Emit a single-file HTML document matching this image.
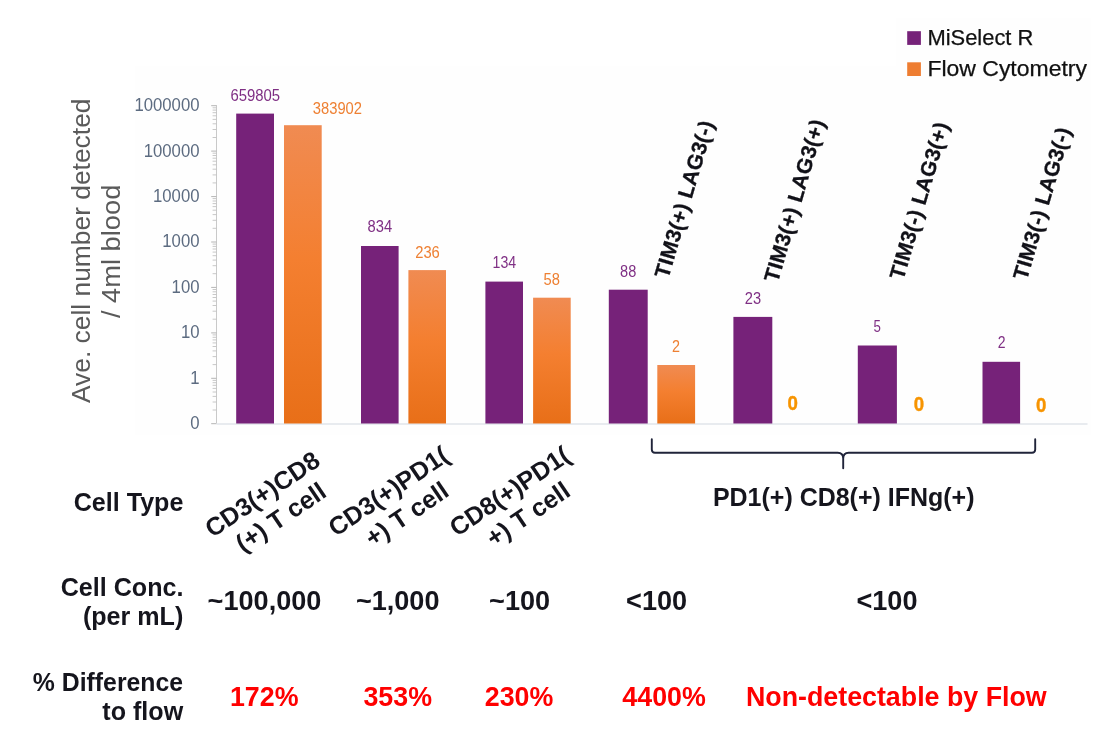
<!DOCTYPE html>
<html lang="en"><head><meta charset="utf-8"><title>MiSelect R vs Flow Cytometry</title>
<style>
html,body{margin:0;padding:0;background:#fff;}
body{width:1116px;height:745px;overflow:hidden;position:relative;}
svg{position:absolute;left:0;top:0;display:block;}
text{font-family:"Liberation Sans",sans-serif;}
.ax{fill:#5c6b80;font-size:19.2px;}
.pl{fill:#7f2f84;font-size:15.8px;}
.ol{fill:#ee8033;font-size:15.8px;}
.zero{fill:#f79400;font-size:20px;font-weight:bold;stroke:#f79400;stroke-width:0.4px;}
.lab{fill:#15151d;font-size:25.1px;font-weight:bold;}
.val{fill:#15151d;font-size:27.1px;font-weight:bold;}
.red{fill:#ff0000;font-size:26.8px;font-weight:bold;}
.rot{fill:#15151d;font-size:25.1px;font-weight:bold;}
.tim{fill:#111118;font-size:21.2px;font-weight:bold;stroke:#111118;stroke-width:0.3px;}
.ytitle{fill:#5a5a5a;font-size:26px;}
.leg{fill:#111;font-size:21.5px;stroke:#111;stroke-width:0.25px;}
</style></head><body>
<svg width="1116" height="745" viewBox="0 0 1116 745">
<defs><linearGradient id="og" x1="0" y1="0" x2="0" y2="1">
<stop offset="0" stop-color="#f08b52"/><stop offset="0.45" stop-color="#f47f30"/><stop offset="1" stop-color="#e86f18"/>
</linearGradient></defs>
<rect x="0" y="0" width="1116" height="745" fill="#ffffff"/>
<rect x="135.5" y="66" width="955.5" height="369" fill="#fefefe"/>
<rect x="896" y="18.5" width="195" height="71" fill="#fefefe"/>
<line x1="216.5" y1="105.2" x2="216.5" y2="423.5" stroke="#c9c9c9" stroke-width="1"/>
<line x1="211.2" y1="105.7" x2="216.5" y2="105.7" stroke="#b4b4b4" stroke-width="1"/>
<line x1="212.6" y1="137.5" x2="216.5" y2="137.5" stroke="#c2c2c2" stroke-width="0.9"/>
<line x1="212.6" y1="129.5" x2="216.5" y2="129.5" stroke="#c2c2c2" stroke-width="0.9"/>
<line x1="212.6" y1="123.8" x2="216.5" y2="123.8" stroke="#c2c2c2" stroke-width="0.9"/>
<line x1="212.6" y1="119.4" x2="216.5" y2="119.4" stroke="#c2c2c2" stroke-width="0.9"/>
<line x1="212.6" y1="115.8" x2="216.5" y2="115.8" stroke="#c2c2c2" stroke-width="0.9"/>
<line x1="212.6" y1="112.7" x2="216.5" y2="112.7" stroke="#c2c2c2" stroke-width="0.9"/>
<line x1="212.6" y1="110.1" x2="216.5" y2="110.1" stroke="#c2c2c2" stroke-width="0.9"/>
<line x1="212.6" y1="107.8" x2="216.5" y2="107.8" stroke="#c2c2c2" stroke-width="0.9"/>
<line x1="211.2" y1="151.1" x2="216.5" y2="151.1" stroke="#b4b4b4" stroke-width="1"/>
<line x1="212.6" y1="182.9" x2="216.5" y2="182.9" stroke="#c2c2c2" stroke-width="0.9"/>
<line x1="212.6" y1="174.9" x2="216.5" y2="174.9" stroke="#c2c2c2" stroke-width="0.9"/>
<line x1="212.6" y1="169.2" x2="216.5" y2="169.2" stroke="#c2c2c2" stroke-width="0.9"/>
<line x1="212.6" y1="164.8" x2="216.5" y2="164.8" stroke="#c2c2c2" stroke-width="0.9"/>
<line x1="212.6" y1="161.2" x2="216.5" y2="161.2" stroke="#c2c2c2" stroke-width="0.9"/>
<line x1="212.6" y1="158.2" x2="216.5" y2="158.2" stroke="#c2c2c2" stroke-width="0.9"/>
<line x1="212.6" y1="155.5" x2="216.5" y2="155.5" stroke="#c2c2c2" stroke-width="0.9"/>
<line x1="212.6" y1="153.2" x2="216.5" y2="153.2" stroke="#c2c2c2" stroke-width="0.9"/>
<line x1="211.2" y1="196.6" x2="216.5" y2="196.6" stroke="#b4b4b4" stroke-width="1"/>
<line x1="212.6" y1="228.3" x2="216.5" y2="228.3" stroke="#c2c2c2" stroke-width="0.9"/>
<line x1="212.6" y1="220.3" x2="216.5" y2="220.3" stroke="#c2c2c2" stroke-width="0.9"/>
<line x1="212.6" y1="214.6" x2="216.5" y2="214.6" stroke="#c2c2c2" stroke-width="0.9"/>
<line x1="212.6" y1="210.2" x2="216.5" y2="210.2" stroke="#c2c2c2" stroke-width="0.9"/>
<line x1="212.6" y1="206.6" x2="216.5" y2="206.6" stroke="#c2c2c2" stroke-width="0.9"/>
<line x1="212.6" y1="203.6" x2="216.5" y2="203.6" stroke="#c2c2c2" stroke-width="0.9"/>
<line x1="212.6" y1="201.0" x2="216.5" y2="201.0" stroke="#c2c2c2" stroke-width="0.9"/>
<line x1="212.6" y1="198.6" x2="216.5" y2="198.6" stroke="#c2c2c2" stroke-width="0.9"/>
<line x1="211.2" y1="242.0" x2="216.5" y2="242.0" stroke="#b4b4b4" stroke-width="1"/>
<line x1="212.6" y1="273.7" x2="216.5" y2="273.7" stroke="#c2c2c2" stroke-width="0.9"/>
<line x1="212.6" y1="265.7" x2="216.5" y2="265.7" stroke="#c2c2c2" stroke-width="0.9"/>
<line x1="212.6" y1="260.1" x2="216.5" y2="260.1" stroke="#c2c2c2" stroke-width="0.9"/>
<line x1="212.6" y1="255.7" x2="216.5" y2="255.7" stroke="#c2c2c2" stroke-width="0.9"/>
<line x1="212.6" y1="252.1" x2="216.5" y2="252.1" stroke="#c2c2c2" stroke-width="0.9"/>
<line x1="212.6" y1="249.0" x2="216.5" y2="249.0" stroke="#c2c2c2" stroke-width="0.9"/>
<line x1="212.6" y1="246.4" x2="216.5" y2="246.4" stroke="#c2c2c2" stroke-width="0.9"/>
<line x1="212.6" y1="244.1" x2="216.5" y2="244.1" stroke="#c2c2c2" stroke-width="0.9"/>
<line x1="211.2" y1="287.4" x2="216.5" y2="287.4" stroke="#b4b4b4" stroke-width="1"/>
<line x1="212.6" y1="319.2" x2="216.5" y2="319.2" stroke="#c2c2c2" stroke-width="0.9"/>
<line x1="212.6" y1="311.2" x2="216.5" y2="311.2" stroke="#c2c2c2" stroke-width="0.9"/>
<line x1="212.6" y1="305.5" x2="216.5" y2="305.5" stroke="#c2c2c2" stroke-width="0.9"/>
<line x1="212.6" y1="301.1" x2="216.5" y2="301.1" stroke="#c2c2c2" stroke-width="0.9"/>
<line x1="212.6" y1="297.5" x2="216.5" y2="297.5" stroke="#c2c2c2" stroke-width="0.9"/>
<line x1="212.6" y1="294.5" x2="216.5" y2="294.5" stroke="#c2c2c2" stroke-width="0.9"/>
<line x1="212.6" y1="291.8" x2="216.5" y2="291.8" stroke="#c2c2c2" stroke-width="0.9"/>
<line x1="212.6" y1="289.5" x2="216.5" y2="289.5" stroke="#c2c2c2" stroke-width="0.9"/>
<line x1="211.2" y1="332.9" x2="216.5" y2="332.9" stroke="#b4b4b4" stroke-width="1"/>
<line x1="212.6" y1="364.6" x2="216.5" y2="364.6" stroke="#c2c2c2" stroke-width="0.9"/>
<line x1="212.6" y1="356.6" x2="216.5" y2="356.6" stroke="#c2c2c2" stroke-width="0.9"/>
<line x1="212.6" y1="350.9" x2="216.5" y2="350.9" stroke="#c2c2c2" stroke-width="0.9"/>
<line x1="212.6" y1="346.5" x2="216.5" y2="346.5" stroke="#c2c2c2" stroke-width="0.9"/>
<line x1="212.6" y1="342.9" x2="216.5" y2="342.9" stroke="#c2c2c2" stroke-width="0.9"/>
<line x1="212.6" y1="339.9" x2="216.5" y2="339.9" stroke="#c2c2c2" stroke-width="0.9"/>
<line x1="212.6" y1="337.3" x2="216.5" y2="337.3" stroke="#c2c2c2" stroke-width="0.9"/>
<line x1="212.6" y1="334.9" x2="216.5" y2="334.9" stroke="#c2c2c2" stroke-width="0.9"/>
<line x1="211.2" y1="378.3" x2="216.5" y2="378.3" stroke="#b4b4b4" stroke-width="1"/>
<line x1="212.6" y1="410.0" x2="216.5" y2="410.0" stroke="#c2c2c2" stroke-width="0.9"/>
<line x1="212.6" y1="402.0" x2="216.5" y2="402.0" stroke="#c2c2c2" stroke-width="0.9"/>
<line x1="212.6" y1="396.4" x2="216.5" y2="396.4" stroke="#c2c2c2" stroke-width="0.9"/>
<line x1="212.6" y1="392.0" x2="216.5" y2="392.0" stroke="#c2c2c2" stroke-width="0.9"/>
<line x1="212.6" y1="388.4" x2="216.5" y2="388.4" stroke="#c2c2c2" stroke-width="0.9"/>
<line x1="212.6" y1="385.3" x2="216.5" y2="385.3" stroke="#c2c2c2" stroke-width="0.9"/>
<line x1="212.6" y1="382.7" x2="216.5" y2="382.7" stroke="#c2c2c2" stroke-width="0.9"/>
<line x1="212.6" y1="380.4" x2="216.5" y2="380.4" stroke="#c2c2c2" stroke-width="0.9"/>
<line x1="211.2" y1="423.7" x2="216.5" y2="423.7" stroke="#b4b4b4" stroke-width="1"/>
<line x1="216.5" y1="424.0" x2="1087.5" y2="424.0" stroke="#e1e4ea" stroke-width="1.3"/>
<text class="ax" x="199.5" y="111.1" text-anchor="end" textLength="65.1" lengthAdjust="spacingAndGlyphs">1000000</text>
<text class="ax" x="199.5" y="156.5" text-anchor="end" textLength="55.8" lengthAdjust="spacingAndGlyphs">100000</text>
<text class="ax" x="199.5" y="202.0" text-anchor="end" textLength="46.5" lengthAdjust="spacingAndGlyphs">10000</text>
<text class="ax" x="199.5" y="247.4" text-anchor="end" textLength="37.2" lengthAdjust="spacingAndGlyphs">1000</text>
<text class="ax" x="199.5" y="292.8" text-anchor="end" textLength="27.9" lengthAdjust="spacingAndGlyphs">100</text>
<text class="ax" x="199.5" y="338.2" text-anchor="end" textLength="18.6" lengthAdjust="spacingAndGlyphs">10</text>
<text class="ax" x="199.5" y="383.7" text-anchor="end" textLength="9.3" lengthAdjust="spacingAndGlyphs">1</text>
<text class="ax" x="199.5" y="429.1" text-anchor="end" textLength="9.3" lengthAdjust="spacingAndGlyphs">0</text>
<rect x="236.2" y="113.6" width="37.8" height="309.9" fill="#762279"/>
<rect x="284.0" y="125.2" width="37.7" height="298.3" fill="url(#og)"/>
<rect x="361.0" y="246.0" width="37.6" height="177.5" fill="#762279"/>
<rect x="408.4" y="270.1" width="37.6" height="153.4" fill="url(#og)"/>
<rect x="485.4" y="281.6" width="37.6" height="141.9" fill="#762279"/>
<rect x="533.1" y="297.7" width="37.6" height="125.8" fill="url(#og)"/>
<rect x="608.8" y="289.7" width="38.9" height="133.8" fill="#762279"/>
<rect x="657.3" y="365.0" width="37.8" height="58.5" fill="url(#og)"/>
<rect x="733.4" y="316.9" width="38.9" height="106.6" fill="#762279"/>
<rect x="857.8" y="345.5" width="39.1" height="78.0" fill="#762279"/>
<rect x="982.5" y="361.8" width="37.6" height="61.7" fill="#762279"/>
<text class="pl" x="255.3" y="100.6" text-anchor="middle" textLength="49.7" lengthAdjust="spacingAndGlyphs">659805</text>
<text class="ol" x="337.4" y="113.6" text-anchor="middle" textLength="49.2" lengthAdjust="spacingAndGlyphs">383902</text>
<text class="pl" x="379.8" y="232.4" text-anchor="middle" textLength="24.6" lengthAdjust="spacingAndGlyphs">834</text>
<text class="ol" x="427.5" y="257.6" text-anchor="middle" textLength="24.6" lengthAdjust="spacingAndGlyphs">236</text>
<text class="pl" x="504.4" y="267.6" text-anchor="middle" textLength="23.6" lengthAdjust="spacingAndGlyphs">134</text>
<text class="ol" x="551.8" y="285.2" text-anchor="middle" textLength="16.4" lengthAdjust="spacingAndGlyphs">58</text>
<text class="pl" x="628.2" y="277.1" text-anchor="middle" textLength="16.2" lengthAdjust="spacingAndGlyphs">88</text>
<text class="ol" x="676.0" y="352.1" text-anchor="middle" textLength="8.0" lengthAdjust="spacingAndGlyphs">2</text>
<text class="pl" x="752.9" y="303.6" text-anchor="middle" textLength="16.3" lengthAdjust="spacingAndGlyphs">23</text>
<text class="pl" x="877.1" y="331.7" text-anchor="middle" textLength="7.4" lengthAdjust="spacingAndGlyphs">5</text>
<text class="pl" x="1001.7" y="348.2" text-anchor="middle" textLength="7.8" lengthAdjust="spacingAndGlyphs">2</text>
<text class="zero" x="792.6" y="410.1" text-anchor="middle" textLength="10.4" lengthAdjust="spacingAndGlyphs">0</text>
<text class="zero" x="919.0" y="411.0" text-anchor="middle" textLength="10.4" lengthAdjust="spacingAndGlyphs">0</text>
<text class="zero" x="1041.2" y="412.1" text-anchor="middle" textLength="10.4" lengthAdjust="spacingAndGlyphs">0</text>
<rect x="907.2" y="31.2" width="13.7" height="13.7" fill="#762279"/>
<rect x="907.2" y="62.3" width="13.7" height="13.7" fill="#ee7d31"/>
<text class="leg" x="927.4" y="45.2" textLength="106" lengthAdjust="spacingAndGlyphs">MiSelect R</text>
<text class="leg" x="927.4" y="75.9" textLength="159.6" lengthAdjust="spacingAndGlyphs">Flow Cytometry</text>
<text class="ytitle" transform="translate(90.3,250.8) rotate(-90)" text-anchor="middle" textLength="304.6" lengthAdjust="spacingAndGlyphs">Ave. cell number detected</text>
<text class="ytitle" transform="translate(119.7,251.4) rotate(-90)" text-anchor="middle" textLength="133.4" lengthAdjust="spacingAndGlyphs">/ 4ml blood</text>
<path d="M651.8 439.2 V449.6 Q651.8 452.8 655 452.8 H837.7 Q843.2 452.8 843.2 458.5 V468.2 M843.2 458.5 Q843.2 452.8 848.7 452.8 H1032 Q1035.2 452.8 1035.2 449.6 V439.2" fill="none" stroke="#20243a" stroke-width="1.9" stroke-linecap="round" stroke-linejoin="round"/>
<text class="tim" transform="translate(668.3,279.2) rotate(-73.7)" textLength="162.5" lengthAdjust="spacing">TIM3(+) LAG3(-)</text>
<text class="tim" transform="translate(777.8,283.2) rotate(-73.7)" textLength="168" lengthAdjust="spacing">TIM3(+) LAG3(+)</text>
<text class="tim" transform="translate(903.3,280.7) rotate(-73.7)" textLength="162.5" lengthAdjust="spacing">TIM3(-) LAG3(+)</text>
<text class="tim" transform="translate(1026.8,280.9) rotate(-73.7)" textLength="157.2" lengthAdjust="spacing">TIM3(-) LAG3(-)</text>
<text class="lab" x="183.4" y="511.3" text-anchor="end">Cell Type</text>
<text class="lab" x="183.4" y="595.5" text-anchor="end">Cell Conc.</text>
<text class="lab" x="183.3" y="625.3" text-anchor="end">(per mL)</text>
<text class="lab" x="183.1" y="690.8" text-anchor="end" textLength="150.3" lengthAdjust="spacingAndGlyphs">% Difference</text>
<text class="lab" x="183.2" y="720.4" text-anchor="end">to flow</text>
<g transform="translate(270,505.5) rotate(-34)"><text class="rot" x="0" y="-5" text-anchor="middle">CD3(+)CD8</text><text class="rot" x="2.4" y="24.3" text-anchor="middle">(+) T cell</text></g>
<g transform="translate(396,502.5) rotate(-34)"><text class="rot" x="0" y="-5" text-anchor="middle">CD3(+)PD1(</text><text class="rot" x="2.4" y="24.3" text-anchor="middle">+) T cell</text></g>
<g transform="translate(517.3,502.5) rotate(-34)"><text class="rot" x="0" y="-5" text-anchor="middle">CD8(+)PD1(</text><text class="rot" x="2.4" y="24.3" text-anchor="middle">+) T cell</text></g>
<text class="lab" x="843.7" y="505.8" text-anchor="middle" textLength="261.6" lengthAdjust="spacingAndGlyphs">PD1(+) CD8(+) IFNg(+)</text>
<text class="val" x="264.5" y="610.1" text-anchor="middle">~100,000</text>
<text class="val" x="397.7" y="610.1" text-anchor="middle">~1,000</text>
<text class="val" x="519.6" y="610.1" text-anchor="middle">~100</text>
<text class="val" x="656.6" y="610.1" text-anchor="middle">&lt;100</text>
<text class="val" x="887.0" y="610.1" text-anchor="middle">&lt;100</text>
<text class="red" x="264.2" y="706.3" text-anchor="middle">172%</text>
<text class="red" x="397.7" y="706.3" text-anchor="middle">353%</text>
<text class="red" x="519.1" y="706.3" text-anchor="middle">230%</text>
<text class="red" x="664.1" y="706.3" text-anchor="middle">4400%</text>
<text class="red" x="896.3" y="706.3" text-anchor="middle">Non-detectable by Flow</text>
</svg></body></html>
